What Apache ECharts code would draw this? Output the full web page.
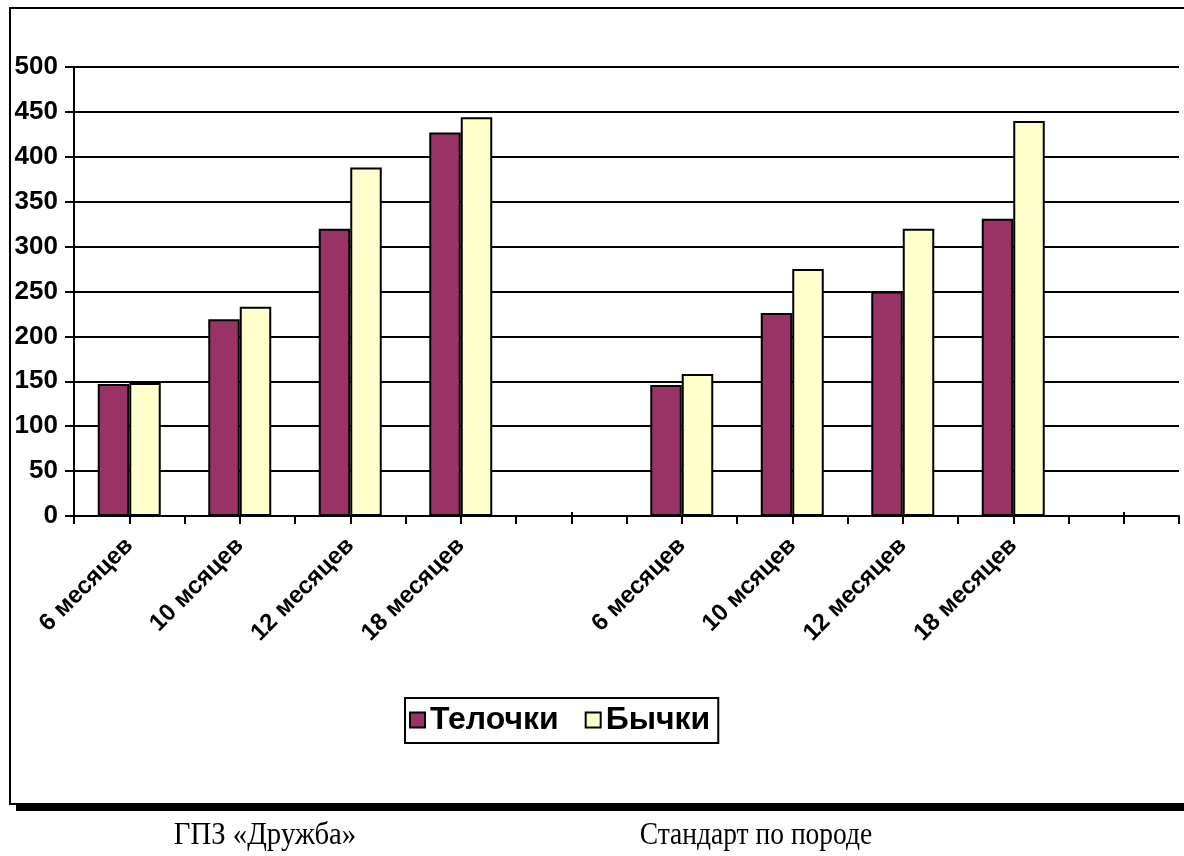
<!DOCTYPE html>
<html>
<head>
<meta charset="utf-8">
<script src="https://cdn.jsdelivr.net/npm/echarts@6/dist/echarts.min.js"></script>
<style>
  html, body { margin: 0; padding: 0; background: #ffffff; }
  #chart { width: 1184px; height: 856px; }
</style>
</head>
<body>
<div id="chart"></div>
<script>
// Age groups: two blocks (farm and breed standard), each followed by an empty slot
const categories = ['6 месяцев', '10 мсяцев', '12 месяцев', '18 месяцев', '',
                    '6 месяцев', '10 мсяцев', '12 месяцев', '18 месяцев', ''];
const heifers = [147, 219, 320, 427, null, 146, 226, 250, 331, null]; // Телочки
const bulls   = [148, 233, 388, 444, null, 158, 275, 320, 440, null]; // Бычки
const seriesNames = ['Телочки', 'Бычки'];
const yTicks = { min: 0, max: 500, step: 50 };
const groupCaptions = ['ГПЗ «Дружба»', 'Стандарт по породе'];

// Half-slot tick positions along the category axis
const halfSlots = [];
for (let i = 0; i < categories.length * 2; i++) halfSlots.push('');

const chart = echarts.init(document.getElementById('chart'), null, { renderer: 'canvas' });
const bold = 'bold';
const sans = 'Liberation Sans, Arial, sans-serif';
const serif = '"Liberation Serif", "Times New Roman", serif';

chart.setOption({
  animation: false,
  backgroundColor: '#ffffff',
  grid: { left: 74, right: 5, top: 67, bottom: 340, containLabel: false },
  legend: {
    data: seriesNames,
    left: 405,
    top: 698,
    orient: 'horizontal',
    icon: 'rect',
    itemWidth: 15,
    itemHeight: 15,
    itemGap: 26,
    padding: [6, 8, 7, 4],
    borderColor: '#000',
    borderWidth: 2,
    textStyle: { fontFamily: sans, fontWeight: bold, fontSize: 32, color: '#000' }
  },
  xAxis: [
    {
      type: 'category',
      data: categories,
      boundaryGap: true,
      axisLine: { show: true, lineStyle: { color: '#000', width: 2 } },
      axisTick: {
        show: true,
        inside: true,
        alignWithLabel: true,
        length: 4,
        interval: (idx, val) => val === '',
        lineStyle: { color: '#000', width: 2 }
      },
      axisLabel: {
        interval: 0,
        rotate: 45,
        margin: 26,
        color: '#000',
        fontFamily: sans,
        fontWeight: bold,
        fontSize: 24
      },
      splitLine: { show: false }
    },
    {
      type: 'category',
      data: halfSlots,
      position: 'bottom',
      boundaryGap: true,
      axisLine: { show: false },
      axisTick: { show: true, interval: 0, length: 8, lineStyle: { color: '#000', width: 2 } },
      axisLabel: { show: false },
      splitLine: { show: false }
    }
  ],
  yAxis: {
    type: 'value',
    min: yTicks.min,
    max: yTicks.max,
    interval: yTicks.step,
    axisLine: { show: true, lineStyle: { color: '#000', width: 2 } },
    axisTick: { show: true, length: 9, lineStyle: { color: '#000', width: 2 } },
    axisLabel: { color: '#000', fontFamily: sans, fontWeight: bold, fontSize: 26, margin: 16 },
    splitLine: { show: true, lineStyle: { color: '#000', width: 2 } }
  },
  series: [
    {
      name: seriesNames[0],
      type: 'bar',
      xAxisIndex: 0,
      data: heifers,
      barWidth: 31.5,
      barGap: '0%',
      itemStyle: { color: '#993366', borderColor: '#000', borderWidth: 2 }
    },
    {
      name: seriesNames[1],
      type: 'bar',
      xAxisIndex: 0,
      data: bulls,
      barWidth: 31.5,
      barGap: '0%',
      itemStyle: { color: '#FFFFCC', borderColor: '#000', borderWidth: 2 }
    }
  ],
  graphic: [
    // outer chart frame with a drop shadow along its bottom edge
    { type: 'rect', z: -1, shape: { x: 16, y: 804, width: 1180, height: 7 }, style: { fill: '#000' } },
    { type: 'rect', z: -1, shape: { x: 10, y: 8, width: 1184, height: 796 }, style: { fill: 'none', stroke: '#000', lineWidth: 2 } },
    // group captions under the frame (narrow serif)
    { type: 'text', x: 265, y: 820, scaleX: 0.9, style: { text: groupCaptions[0], fill: '#000', align: 'center', font: '32px ' + serif } },
    { type: 'text', x: 756, y: 820, scaleX: 0.86, style: { text: groupCaptions[1], fill: '#000', align: 'center', font: '32px ' + serif } }
  ]
});
</script>
</body>
</html>
